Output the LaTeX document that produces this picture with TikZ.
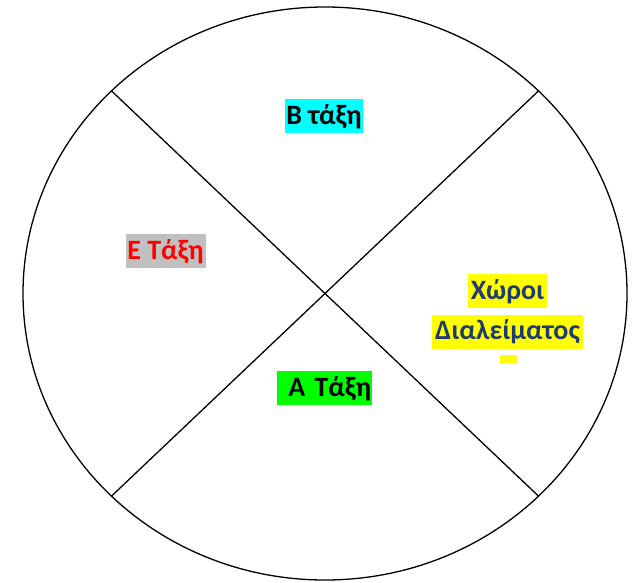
\documentclass[tikz,border=0pt]{standalone}
\usepackage{fontspec}
\setmainfont{Carlito}
\definecolor{hlgray}{HTML}{C0C0C0}
\definecolor{hlcyan}{HTML}{00FFFF}
\definecolor{hlgreen}{HTML}{00FF00}
\definecolor{hlyellow}{HTML}{FFFF00}
\definecolor{navytext}{HTML}{1F3C72}
\tikzset{
    hl/.style={inner xsep=0pt, inner ysep=1pt, text height=24pt, text depth=8pt,
        font=\fontsize{28}{32}\selectfont\bfseries},
    room/.style={line width=1.3pt}
}
\begin{document}
\begin{tikzpicture}[x=1pt, y=-1pt]
    \useasboundingbox (0,0) rectangle (636,582);

    % Outline of the yard
    \coordinate (c) at (325,293.5);
    \draw[room] (c) ellipse [x radius=302, y radius=286.5];

    % Points on the outline
    \coordinate (nw) at (111.5,90.9);
    \coordinate (ne) at (538.5,90.9);
    \coordinate (sw) at (111.5,496.1);
    \coordinate (se) at (538.5,496.1);

    % Dividing lines
    \draw[room] (nw) -- (se);
    \draw[room] (ne) -- (sw);

    % Labels
    \node[hl, fill=hlcyan, minimum width=78pt] (b) at (324,116) {Β τάξη};
    \node[hl, fill=hlgray, text=red, minimum width=80pt] (e) at (165.5,251) {Ε Τάξη};
    \node[hl, fill=hlgreen, text width=93pt, inner xsep=1pt, align=right] (a) at (324.5,388) {Α Τάξη};
    \node[hl, fill=hlyellow, text=navytext, minimum width=79pt] (xoroi) at (507.5,291) {Χώροι};
    \node[hl, fill=hlyellow, text=navytext, minimum width=151pt] (dial) at (507.5,331.5) {Διαλείματος};
    \node[fill=hlyellow, inner sep=0pt, minimum width=17pt, minimum height=8pt] (mark) at (508.5,359) {};
\end{tikzpicture}
\end{document}
